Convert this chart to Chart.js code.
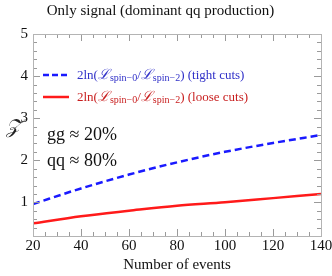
<!DOCTYPE html>
<html>
<head>
<meta charset="utf-8">
<script src="https://cdn.jsdelivr.net/npm/chart.js@4.4.1/dist/chart.umd.min.js"></script>
<style>
  html, body { margin: 0; padding: 0; background: #fff; }
  #wrap { width: 332px; height: 276px; }
</style>
</head>
<body>
<div id="wrap"><canvas id="grafico" width="332" height="276"></canvas></div>
<script>
// datos
const eventos = [20, 40, 60, 80, 100, 120, 140];
const cortesEstrictos = [0.96, 1.33, 1.66, 1.95, 2.2, 2.41, 2.6];   // tight cuts (azul)
const cortesSueltos = [0.5, 0.67, 0.8, 0.92, 1.0, 1.1, 1.2];        // loose cuts (rojo)
const etiquetasX = [20, 40, 60, 80, 100, 120, 140];
const etiquetasY = [1, 2, 3, 4, 5];

const serif = "'Liberation Serif', 'DejaVu Serif', serif";
const azul = "#1a1aff";
const rojo = "#ff1a1a";

// marcas hacia dentro en los cuatro lados del marco
const marcoPlugin = {
  id: 'marco',
  afterDraw(chart) {
    const ctx = chart.ctx;
    const a = chart.chartArea;
    const sx = chart.scales.x, sy = chart.scales.y;
    ctx.save();
    ctx.strokeStyle = "#9a9a9a";
    ctx.lineWidth = 1;
    sx.ticks.forEach(t => {
      const px = Math.round(sx.getPixelForValue(t.value)) + 0.5;
      const largo = etiquetasX.includes(t.value) ? 7 : 4;
      ctx.beginPath();
      ctx.moveTo(px, a.bottom); ctx.lineTo(px, a.bottom - largo);
      ctx.moveTo(px, a.top); ctx.lineTo(px, a.top + largo);
      ctx.stroke();
    });
    sy.ticks.forEach(t => {
      const py = Math.round(sy.getPixelForValue(t.value)) + 0.5;
      const largo = etiquetasY.some(v => Math.abs(v - t.value) < 1e-6) ? 7 : 4;
      ctx.beginPath();
      ctx.moveTo(a.left, py); ctx.lineTo(a.left + largo, py);
      ctx.moveTo(a.right, py); ctx.lineTo(a.right - largo, py);
      ctx.stroke();
    });
    ctx.strokeStyle = "#b4b4b4";
    ctx.strokeRect(a.left + 0.5, a.top + 0.5, a.right - a.left, a.bottom - a.top);

    // titulo del eje y
    ctx.fillStyle = "#222";
    ctx.font = "italic 20px " + serif;
    ctx.textAlign = "center";
    ctx.textBaseline = "middle";
    ctx.fillText("\u{1D4B5}", 13, 128);

    // leyenda
    function leyenda(y, color, colorTexto, dash, resto) {
      ctx.strokeStyle = color;
      ctx.lineWidth = 2.5;
      ctx.setLineDash(dash);
      ctx.beginPath();
      ctx.moveTo(43, y); ctx.lineTo(69, y);
      ctx.stroke();
      ctx.setLineDash([]);
      ctx.fillStyle = colorTexto;
      ctx.textAlign = "left";
      ctx.textBaseline = "alphabetic";
      let x = 77;
      const base = y + 4;
      const partes = [
        ["2ln(", "13px " + serif, 0],
        ["\u2112", "italic 14px " + serif, 0],
        ["spin\u22120", "10px " + serif, 2],
        ["/", "13px " + serif, 0],
        ["\u2112", "italic 14px " + serif, 0],
        ["spin\u22122", "10px " + serif, 2],
        [")", "13px " + serif, 0],
        [resto, "13px " + serif, 0]
      ];
      partes.forEach(p => {
        ctx.font = p[1];
        ctx.fillText(p[0], x, base + p[2]);
        x += ctx.measureText(p[0]).width;
      });
    }
    leyenda(75, azul, "#3030c8", [6, 3], " (tight cuts)");
    leyenda(97, rojo, "#c81e1e", [], " (loose cuts)");

    // fracciones de produccion
    ctx.fillStyle = "#111";
    ctx.font = "18px " + serif;
    ctx.textAlign = "left";
    ctx.textBaseline = "middle";
    ctx.fillText("gg \u2248 20%", 47, 135);
    ctx.fillText("qq \u2248 80%", 47, 161);
    ctx.restore();
  }
};

function crearGrafico() {
  const ctx = document.getElementById('grafico').getContext('2d');
  new Chart(ctx, {
    type: 'line',
    data: {
      datasets: [
        {
          label: 'tight cuts',
          data: eventos.map((e, i) => ({ x: e, y: cortesEstrictos[i] })),
          borderColor: azul,
          borderWidth: 2.5,
          borderDash: [7, 4],
          pointRadius: 0,
          cubicInterpolationMode: 'monotone',
          fill: false
        },
        {
          label: 'loose cuts',
          data: eventos.map((e, i) => ({ x: e, y: cortesSueltos[i] })),
          borderColor: rojo,
          borderWidth: 2.5,
          pointRadius: 0,
          cubicInterpolationMode: 'monotone',
          fill: false
        }
      ]
    },
    options: {
      responsive: false,
      animation: false,
      layout: { padding: { left: 0, right: 11, top: 0, bottom: 2 } },
      scales: {
        x: {
          type: 'linear',
          min: 20,
          max: 140,
          grid: { display: false, drawTicks: false },
          border: { display: false },
          afterFit: s => { s.height = 38; s.paddingLeft = 0; s.paddingRight = 0; },
          ticks: {
            stepSize: 5,
            autoSkip: false,
            maxRotation: 0,
            padding: 1,
            color: "#111",
            font: { family: serif, size: 15 },
            callback: v => etiquetasX.includes(v) ? String(v) : ''
          },
          title: {
            display: true,
            text: 'Number of events',
            color: "#111",
            font: { family: serif, size: 15 },
            padding: { top: 0, bottom: 0 }
          }
        },
        y: {
          min: 0.2,
          max: 5,
          grid: { display: false, drawTicks: false },
          border: { display: false },
          afterFit: s => { s.width = 33; s.paddingTop = 0; s.paddingBottom = 0; },
          ticks: {
            stepSize: 0.2,
            autoSkip: false,
            padding: 5,
            color: "#111",
            font: { family: serif, size: 15 },
            callback: v => etiquetasY.some(e => Math.abs(e - v) < 1e-6) ? String(Math.round(v)) : ''
          }
        }
      },
      plugins: {
        legend: { display: false },
        tooltip: { enabled: false },
        title: {
          display: true,
          text: 'Only signal (dominant qq production)',
          color: "#111",
          font: { family: serif, size: 15, weight: 'normal' },
          padding: { top: 2, bottom: 14 }
        }
      }
    },
    plugins: [marcoPlugin]
  });
}

window.onload = () => {
  crearGrafico();
};
</script>
</body>
</html>
